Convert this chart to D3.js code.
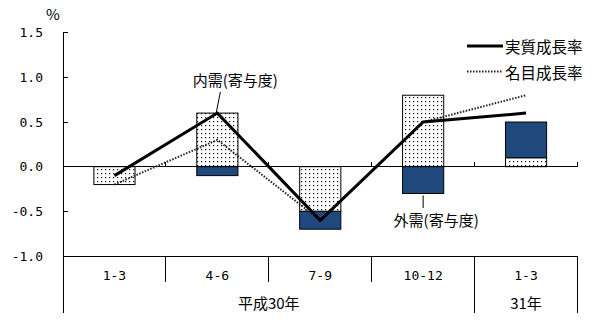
<!DOCTYPE html>
<html><head><meta charset="utf-8">
<script src="https://cdn.jsdelivr.net/npm/d3@7"></script>
<style>
html,body{margin:0;padding:0;background:#fff;}
svg{display:block;}
.num{font-family:"DejaVu Sans Mono",monospace;font-size:13px;fill:#000;}
.jp{font-family:"Noto Sans CJK JP","Noto Sans",sans-serif;fill:#000;}
</style>
</head><body>
<svg id="chart" width="610" height="328"></svg>
<script>
// ---- data ----
const categories = ["1-3","4-6","7-9","10-12","1-3"];
const yearLabels = ["平成30年","31年"];
const yearSpans = [4,1];
const domestic = [-0.2, 0.6, -0.5, 0.8, 0.1];   // 内需(寄与度)
const external = [0.0, -0.1, -0.2, -0.3, 0.4];   // 外需(寄与度)
const realGrowth = [-0.1, 0.6, -0.6, 0.5, 0.6];  // 実質成長率
const nominalGrowth = [-0.2, 0.3, -0.6, 0.5, 0.8]; // 名目成長率
const yTicks = [-1.0, -0.5, 0.0, 0.5, 1.0, 1.5];
const seriesNames = ["実質成長率","名目成長率"];

// ---- setup ----
const svg = d3.select("#chart");
svg.append("rect").attr("width",610).attr("height",328).attr("fill","#fff");
const x = d3.scaleBand().domain(d3.range(categories.length)).range([63,577.5]).padding(0);
const y = d3.scaleLinear().domain([-1,1.5]).range([256,32.7]);
const cx = i => x(i) + x.bandwidth()/2;
const barW = x.bandwidth()*0.4;
const fmt = v => d3.format(".1f")(v).replace("−","-");

const defs = svg.append("defs");
const pat = defs.append("pattern").attr("id","dots").attr("patternUnits","userSpaceOnUse")
  .attr("width",4).attr("height",4);
pat.append("rect").attr("width",4).attr("height",4).attr("fill","#fff");
pat.append("rect").attr("x",1).attr("y",1).attr("width",1.2).attr("height",1.2).attr("fill","#111");

// ---- bars (stacked, diverging) ----
const rows = categories.map((c,i)=>({domestic:domestic[i], external:external[i]}));
const stack = d3.stack().keys(["domestic","external"]).offset(d3.stackOffsetDiverging)(rows);
const fills = {domestic:"url(#dots)", external:"#1F497D"};
const barG = svg.append("g");
stack.forEach(layer=>{
  layer.forEach((d,i)=>{
    if(Math.abs(d[1]-d[0])<1e-9) return;
    barG.append("rect")
      .attr("x",cx(i)-barW/2).attr("width",barW)
      .attr("y",y(Math.max(d[0],d[1])))
      .attr("height",Math.abs(y(d[0])-y(d[1])))
      .attr("fill",fills[layer.key])
      .attr("stroke","#000").attr("stroke-width",1);
  });
});

// ---- axes ----
const ax = svg.append("g").attr("stroke","#000").attr("stroke-width",1).attr("shape-rendering","crispEdges");
ax.append("line").attr("x1",63).attr("x2",63).attr("y1",y(1.5)).attr("y2",313);
yTicks.forEach(v=>{
  if(v===0 || v===-1) return;
  ax.append("line").attr("x1",63).attr("x2",68).attr("y1",y(v)).attr("y2",y(v));
});
ax.append("line").attr("x1",63).attr("x2",x.range()[1]).attr("y1",y(0)).attr("y2",y(0));
ax.append("line").attr("x1",63).attr("x2",x.range()[1]).attr("y1",y(-1)).attr("y2",y(-1));
d3.range(1,categories.length+1).forEach(i=>{
  const xx = i<categories.length ? x(i) : x.range()[1];
  ax.append("line").attr("x1",xx).attr("x2",xx).attr("y1",y(0)).attr("y2",y(0)-5);
});
d3.range(1,categories.length).forEach(i=>{
  ax.append("line").attr("x1",x(i)).attr("x2",x(i)).attr("y1",y(-1)).attr("y2",282);
});
let acc=0;
yearSpans.forEach(s=>{
  acc+=s;
  const xx = acc<categories.length ? x(acc) : x.range()[1];
  ax.append("line").attr("x1",xx).attr("x2",xx).attr("y1",y(-1)).attr("y2",313);
});

// y tick labels
yTicks.forEach(v=>{
  svg.append("text").attr("class","num").attr("x",43).attr("y",y(v))
    .attr("text-anchor","end").attr("dominant-baseline","central").text(fmt(v));
});
svg.append("text").attr("class","jp").attr("font-size",15).attr("x",53).attr("y",13)
  .attr("text-anchor","middle").attr("dominant-baseline","central").text("%");

// category labels
categories.forEach((c,i)=>{
  svg.append("text").attr("class","num").attr("x",cx(i)).attr("y",275)
    .attr("text-anchor","middle").attr("dominant-baseline","central").text(c);
});
acc=0;
yearLabels.forEach((lab,k)=>{
  const start=acc; acc+=yearSpans[k];
  const x0=x(start), x1= acc<categories.length? x(acc): x.range()[1];
  svg.append("text").attr("class","jp").attr("font-size",15).attr("x",(x0+x1)/2).attr("y",302)
    .attr("text-anchor","middle").attr("dominant-baseline","central").text(lab);
});

// ---- lines ----
const line = d3.line().x((d,i)=>cx(i)).y(d=>y(d));
svg.append("path").datum(nominalGrowth).attr("d",line).attr("fill","none")
  .attr("stroke","#222").attr("stroke-width",2).attr("stroke-dasharray","1.5,1.5");
svg.append("path").datum(realGrowth).attr("d",line).attr("fill","none")
  .attr("stroke","#000").attr("stroke-width",3).attr("stroke-linejoin","miter");

// ---- annotations ----
svg.append("text").attr("class","jp").attr("font-size",15).attr("x",cx(1)+18).attr("y",79)
  .attr("text-anchor","middle").attr("dominant-baseline","central").text("内需(寄与度)");
svg.append("line").attr("x1",cx(1)+3).attr("y1",92).attr("x2",cx(1)-1).attr("y2",y(domestic[1])-1)
  .attr("stroke","#000").attr("stroke-width",1);
svg.append("text").attr("class","jp").attr("font-size",15).attr("x",cx(3)+13).attr("y",219)
  .attr("text-anchor","middle").attr("dominant-baseline","central").text("外需(寄与度)");
svg.append("line").attr("x1",cx(3)).attr("y1",y(external[3])+2).attr("x2",cx(3)).attr("y2",208)
  .attr("stroke","#000").attr("stroke-width",1);

// ---- legend ----
const lg = svg.append("g");
seriesNames.forEach((n,k)=>{
  const yy = 46 + k*25.5;
  lg.append("line").attr("x1",467).attr("x2",503).attr("y1",yy).attr("y2",yy)
    .attr("stroke",k===0?"#000":"#222").attr("stroke-width",k===0?3:2)
    .attr("stroke-dasharray",k===0?null:"1.5,1.5");
  lg.append("text").attr("class","jp").attr("font-size",15.5).attr("x",505).attr("y",yy)
    .attr("dominant-baseline","central").text(n);
});
</script>
</body></html>
